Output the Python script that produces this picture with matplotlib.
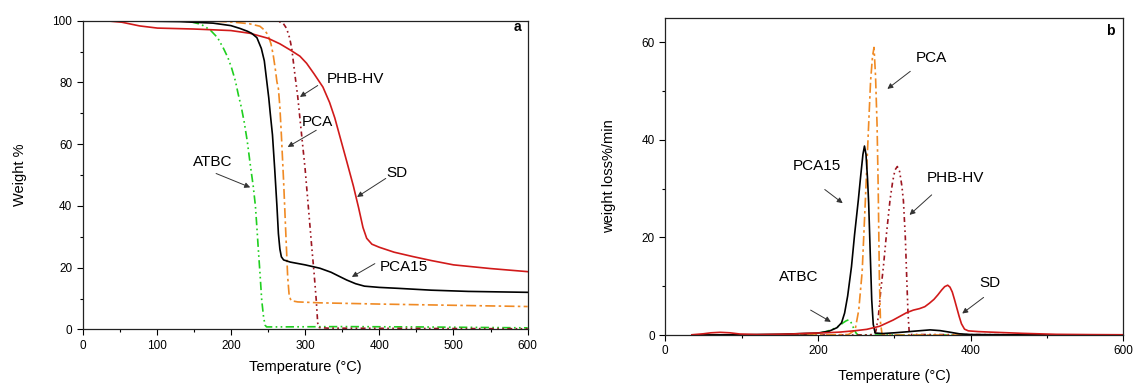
import numpy as np
import matplotlib
matplotlib.use('Agg')
import matplotlib.pyplot as plt
from matplotlib.ticker import MultipleLocator

plt.rcParams['font.family'] = ['Liberation Sans', 'DejaVu Sans']

# ---- panel a: TGA (weight %) ----
t_sd_a = [0, 30, 53, 77, 101, 150, 200, 226, 250, 266, 280, 293, 302, 312, 324, 333, 340, 348, 356,
          365, 372, 378, 383, 390, 400, 420, 445, 470, 500, 550, 600]
w_sd_a = [100, 100, 99.5, 98.3, 97.6, 97.3, 96.8, 95.9, 94.3, 92.5, 90.5, 88.5, 86.2, 82.8, 78.5, 73.5, 68.5,
          61.5, 54.5, 46.5, 39.5, 33, 29.5, 27.6, 26.6, 25, 23.6, 22.3, 20.9, 19.7, 18.7]

t_pca15_a = [0, 50, 100, 131, 176, 200, 212, 222, 228, 235, 241, 245, 248, 251, 253, 256, 259, 262, 264,
             266, 268, 271, 280, 300, 320, 335, 345, 356, 368, 380, 400, 425, 470, 520, 600]
w_pca15_a = [100, 100, 99.8, 99.7, 99.2, 98.4, 97.5, 96.6, 95.9, 94.5, 91, 87, 81, 75, 70, 63, 52, 40, 31,
             26, 23.5, 22.5, 21.8, 20.9, 19.8, 18.5, 17.3, 16, 14.8, 14, 13.6, 13.3, 12.7, 12.3, 12.0]

t_pca_a = [0, 100, 180, 200, 225, 239, 245, 250, 254, 257, 260, 262, 264, 266, 268, 271, 274, 276.5,
           278.5, 281, 290, 320, 400, 500, 600]
w_pca_a = [100, 100, 99.8, 99.6, 99, 98.2, 97, 95.4, 92.5, 88.9, 84, 80.2, 78, 72, 63, 48, 31, 17,
           11, 9.3, 8.9, 8.6, 8.2, 7.8, 7.4]

t_phb_a = [0, 100, 200, 262, 270, 275, 279, 282, 286, 290, 294, 297, 300, 303, 306, 309, 312, 315,
           317, 319, 330, 450, 600]
w_phb_a = [100, 100, 100, 99.9, 99.3, 97.5, 94.5, 91, 83, 75.5, 66, 59, 52, 43.5, 35, 26.5, 18.5, 9.5,
           2, 0.6, 0.4, 0.3, 0.2]

t_atbc_a = [0, 100, 130, 145, 160, 172, 182, 190, 196, 201, 206, 210, 214, 218, 222, 226, 230, 233, 235,
            237, 239.5, 241.5, 244, 246, 248, 260, 350, 450, 600]
w_atbc_a = [100, 100, 100, 99.7, 98.8, 97, 94.5, 91, 88, 84.6, 80.5, 76, 72, 67, 61, 53.5, 46.5, 40, 33,
            25.7, 17, 9.5, 4, 1.4, 0.8, 0.8, 0.9, 0.8, 0.5]

# ---- panel b: DTG (weight loss %/min) ----
t_sd_b = [35, 50, 60, 72, 85, 98, 120, 142, 165, 185, 210, 229, 250, 264, 281, 298.5, 316, 325, 333, 340,
          346, 352, 357, 362, 366, 370, 373, 376, 379, 382, 385, 388, 392, 397, 410, 425, 468, 512, 560, 600]
d_sd_b = [0.05, 0.25, 0.45, 0.55, 0.45, 0.2, 0.1, 0.14, 0.2, 0.34, 0.45, 0.6, 0.9, 1.16, 1.8, 3.06, 4.56, 5.1,
          5.4, 5.8, 6.5, 7.3, 8.2, 9.2, 9.9, 10.2, 9.8, 8.8, 7.2, 5.5, 3.8, 2.3, 1.2, 0.85, 0.7, 0.6, 0.34,
          0.14, 0.08, 0.05]

t_pca15_b = [35, 100, 150, 200, 215, 225, 231, 235, 239, 244, 248, 253, 256, 259, 261, 263, 265, 266.5,
             268.5, 270.5, 272.5, 275, 285, 300, 320, 335, 347, 360, 372, 385, 400, 450, 600]
d_pca15_b = [0, 0.05, 0.15, 0.4, 0.8, 1.5, 2.5, 4.5, 8, 14, 20.5, 27.7, 32.5, 37, 38.7, 37, 32, 27,
             17, 7.2, 2.2, 0.4, 0.3, 0.45, 0.7, 0.9, 1.05, 0.9, 0.6, 0.25, 0.1, 0.05, 0]

t_pca_b = [35, 200, 240, 248.7, 253.5, 258, 262, 266, 269, 271.5, 273.5, 275.5, 277.5, 279, 280.5, 282,
           284, 290, 600]
d_pca_b = [0, 0, 0.1, 1.0, 5.1, 13, 27, 41.4, 52, 57, 58.9, 53, 43, 30, 12, 2.5, 0.2, 0, 0]

t_phb_b = [35, 260, 272, 276, 279.2, 282, 285.8, 290, 294.5, 298, 301, 304, 307, 310, 312, 314.5, 316.5,
           318, 319.5, 321, 600]
d_phb_b = [0, 0, 0.1, 0.8, 3.8, 8.6, 14, 21, 27.7, 31.5, 33.8, 34.5, 33.5, 30.5, 27.5, 20, 11, 4.5,
           0.8, 0.1, 0]

t_atbc_b = [35, 190, 198, 205, 211, 218, 224, 229, 233, 237, 240, 242.5, 244.5, 246.5, 248.5, 250.5, 253, 600]
d_atbc_b = [0, 0, 0.3, 0.5, 0.7, 1.1, 1.5, 2.0, 2.5, 2.9, 3.1, 2.9, 2.2, 1.5, 0.8, 0.3, 0, 0]

c_sd = '#d11a1a'
c_phb = '#9c1520'
c_pca = '#f08a24'
c_atbc = '#1fcf1f'
c_pca15 = 'black'

ls_atbc = (0, (5, 2, 1, 2, 1, 2))
ls_pca = (0, (6, 2, 1.5, 2))
ls_phb = (0, (3, 2, 1, 2, 1, 2))

fig = plt.figure(figsize=(11.37, 3.83), dpi=100)
ax1 = fig.add_axes([0.0726, 0.140, 0.3915, 0.806])
ax2 = fig.add_axes([0.585, 0.1253, 0.403, 0.8287])


def arrow(ax, tip, start):
    ax.annotate('', xy=tip, xytext=start,
                arrowprops=dict(arrowstyle='-|>', color='#333333', lw=0.7,
                                mutation_scale=8, shrinkA=0, shrinkB=0))


# panel a
ax1.plot(t_atbc_a, w_atbc_a, color=c_atbc, ls=ls_atbc, lw=1.2)
ax1.plot(t_phb_a, w_phb_a, color=c_phb, ls=ls_phb, lw=1.2)
ax1.plot(t_pca_a, w_pca_a, color=c_pca, ls=ls_pca, lw=1.2)
ax1.plot(t_sd_a, w_sd_a, color=c_sd, lw=1.2)
ax1.plot(t_pca15_a, w_pca15_a, color=c_pca15, lw=1.2)

ax1.set_xlim(0, 600)
ax1.set_ylim(0, 100)
ax1.xaxis.set_major_locator(MultipleLocator(100))
ax1.xaxis.set_minor_locator(MultipleLocator(50))
ax1.yaxis.set_major_locator(MultipleLocator(20))
ax1.yaxis.set_minor_locator(MultipleLocator(10))
ax1.set_xlabel('Temperature (°C)', fontsize=10.5, labelpad=6)
ax1.set_ylabel('Weight %', fontsize=10.5, labelpad=18)
ax1.text(586, 98, 'a', fontsize=10, fontweight='bold', ha='center', va='center')

ax1.text(368, 81, 'PHB-HV', fontsize=11, ha='center', va='center')
arrow(ax1, (293, 75.3), (317, 79))
ax1.text(317, 67.2, 'PCA', fontsize=11, ha='center', va='center')
arrow(ax1, (276.5, 59.1), (315, 64.5))
ax1.text(175.5, 54.3, 'ATBC', fontsize=11, ha='center', va='center')
arrow(ax1, (226, 46), (180, 50.5))
ax1.text(424, 50.5, 'SD', fontsize=11, ha='center', va='center')
arrow(ax1, (370, 42.9), (408.7, 48.9))
ax1.text(432.7, 20.2, 'PCA15', fontsize=11, ha='center', va='center')
arrow(ax1, (363, 17), (394, 21.3))

# panel b
ax2.plot(t_atbc_b, d_atbc_b, color=c_atbc, ls=ls_atbc, lw=1.2)
ax2.plot(t_phb_b, d_phb_b, color=c_phb, ls=ls_phb, lw=1.2)
ax2.plot(t_pca_b, d_pca_b, color=c_pca, ls=ls_pca, lw=1.2)
ax2.plot(t_pca15_b, d_pca15_b, color=c_pca15, lw=1.2)
ax2.plot(t_sd_b, d_sd_b, color=c_sd, lw=1.2)

ax2.set_xlim(0, 600)
ax2.set_ylim(0, 65)
ax2.xaxis.set_major_locator(MultipleLocator(200))
ax2.xaxis.set_minor_locator(MultipleLocator(100))
ax2.yaxis.set_major_locator(MultipleLocator(20))
ax2.yaxis.set_minor_locator(MultipleLocator(10))
ax2.set_xlabel('Temperature (°C)', fontsize=10.5, labelpad=8)
ax2.set_ylabel('weight loss%/min', fontsize=10.5, labelpad=18)
ax2.text(583, 62.3, 'b', fontsize=10, fontweight='bold', ha='center', va='center')

ax2.text(348, 56.8, 'PCA', fontsize=11, ha='center', va='center')
arrow(ax2, (291, 50.4), (321, 54))
ax2.text(198.4, 34.7, 'PCA15', fontsize=11, ha='center', va='center')
arrow(ax2, (232.5, 27), (209, 29.8))
ax2.text(380.5, 32.2, 'PHB-HV', fontsize=11, ha='center', va='center')
arrow(ax2, (320, 24.6), (349, 28.7))
ax2.text(175, 11.8, 'ATBC', fontsize=11, ha='center', va='center')
arrow(ax2, (217, 2.7), (190.5, 5.1))
ax2.text(425, 10.6, 'SD', fontsize=11, ha='center', va='center')
arrow(ax2, (389, 4.4), (417, 7.7))

for ax in (ax1, ax2):
    ax.tick_params(which='major', direction='out', length=4, width=0.8, labelsize=8.5)
    ax.tick_params(which='minor', direction='out', length=2.5, width=0.8)
    for s in ax.spines.values():
        s.set_linewidth(0.9)
        s.set_color('#222222')

fig.savefig('out.png', dpi=100)
